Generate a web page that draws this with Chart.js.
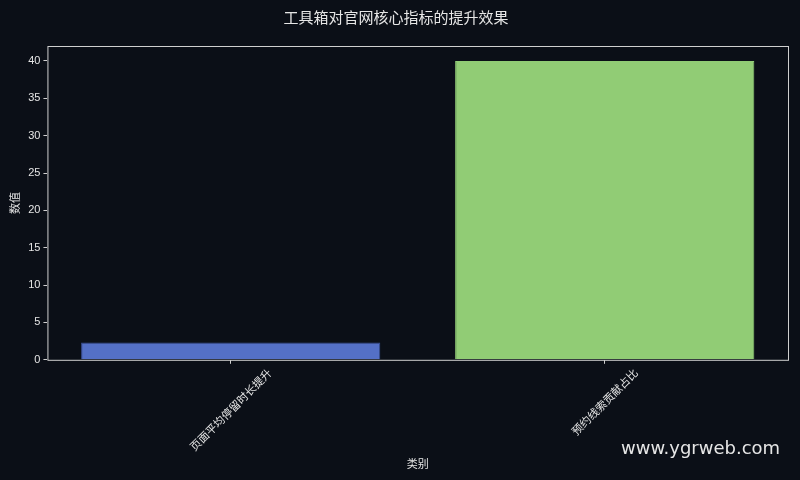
<!DOCTYPE html>
<html lang="zh-CN">
<head>
  <meta charset="UTF-8" />
  <title>工具箱对官网核心指标的提升效果</title>
  <script src="https://cdn.jsdelivr.net/npm/chart.js"></script>
  <style>
    body { margin: 0; background: #0b0f17; }
    .wrap { position: relative; width: 800px; height: 480px; }
    .mark { position: absolute; left: 621px; top: 437px; font-family: "DejaVu Sans", sans-serif; font-size: 18px; color: #e6e6e6; }
  </style>
</head>
<body>
  <div class="wrap">
    <canvas id="grafico" width="800" height="480"></canvas>
    <div class="mark">www.ygrweb.com</div>
  </div>
  <script>
    const categorias = ['页面平均停留时长提升', '预约线索贡献占比'];
    const valores = [2.3, 40];
    const cores = ['#5470c6', '#91cc75'];
    const bordas = ['#3a4f94', '#91cc75'];

    const fonte = '"Noto Sans CJK SC", "DejaVu Sans", sans-serif';
    const corTexto = '#e6e6e6';

    // moldura em volta da área do gráfico
    const moldura = {
      id: 'moldura',
      afterDatasetsDraw(chart) {
        const { ctx, chartArea: a } = chart;
        ctx.save();
        ctx.strokeStyle = '#cfcfcf';
        ctx.lineWidth = 1;
        ctx.strokeRect(a.left + 0.5, a.top + 0.5, a.right - a.left, a.bottom - a.top);
        ctx.restore();
      }
    };

    // rótulos do eixo x girados 45°, centrados no tick
    const rotulos = {
      id: 'rotulos',
      afterDraw(chart) {
        const { ctx } = chart;
        const x = chart.scales.x;
        ctx.save();
        ctx.font = '11px ' + fonte;
        ctx.fillStyle = corTexto;
        ctx.textAlign = 'center';
        ctx.textBaseline = 'middle';
        categorias.forEach((c, i) => {
          const px = x.getPixelForValue(i);
          const w = ctx.measureText(c).width;
          const meio = w * Math.SQRT1_2 / 2 + 6;
          ctx.save();
          ctx.translate(px, x.top + 5 + meio);
          ctx.rotate(-Math.PI / 4);
          ctx.fillText(c, 0, 0);
          ctx.restore();
        });
        ctx.restore();
      }
    };

    new Chart(document.getElementById('grafico'), {
      type: 'bar',
      data: {
        datasets: [{ label: '数值', data: categorias.map((c, i) => ({ x: i, y: valores[i] })),
          backgroundColor: cores, borderColor: bordas, borderWidth: 1,
          barPercentage: 0.8, categoryPercentage: 1 }]
      },
      options: {
        responsive: false,
        animation: false,
        layout: { padding: { left: 4, right: 12, top: 6, bottom: 6 } },
        plugins: {
          legend: { display: false },
          tooltip: { enabled: false },
          title: { display: true, text: '工具箱对官网核心指标的提升效果', color: corTexto,
            font: { family: fonte, size: 15, weight: 'normal' }, padding: { top: 2, bottom: 20 } }
        },
        scales: {
          x: {
            type: 'linear', min: -0.49, max: 1.49, offset: false,
            afterBuildTicks: s => { s.ticks = categorias.map((c, i) => ({ value: i })); },
            grid: { display: true, offset: false, drawOnChartArea: false, drawTicks: true, tickLength: 4, color: '#cfcfcf' },
            border: { display: false },
            ticks: { display: false },
            title: { display: true, text: '类别', color: corTexto, font: { family: fonte, size: 11 }, padding: { top: 93, bottom: 4 } }
          },
          y: {
            min: 0, max: 42,
            afterBuildTicks: s => { s.ticks = s.ticks.filter(t => t.value % 5 === 0); },
            grid: { display: true, drawOnChartArea: false, drawTicks: true, tickLength: 4, color: '#cfcfcf' },
            border: { display: false },
            ticks: { stepSize: 5, color: corTexto, font: { family: 'Liberation Sans, sans-serif', size: 11 } },
            title: { display: true, text: '数值', color: corTexto, font: { family: fonte, size: 11 } }
          }
        }
      },
      plugins: [moldura, rotulos]
    });
  </script>
</body>
</html>
